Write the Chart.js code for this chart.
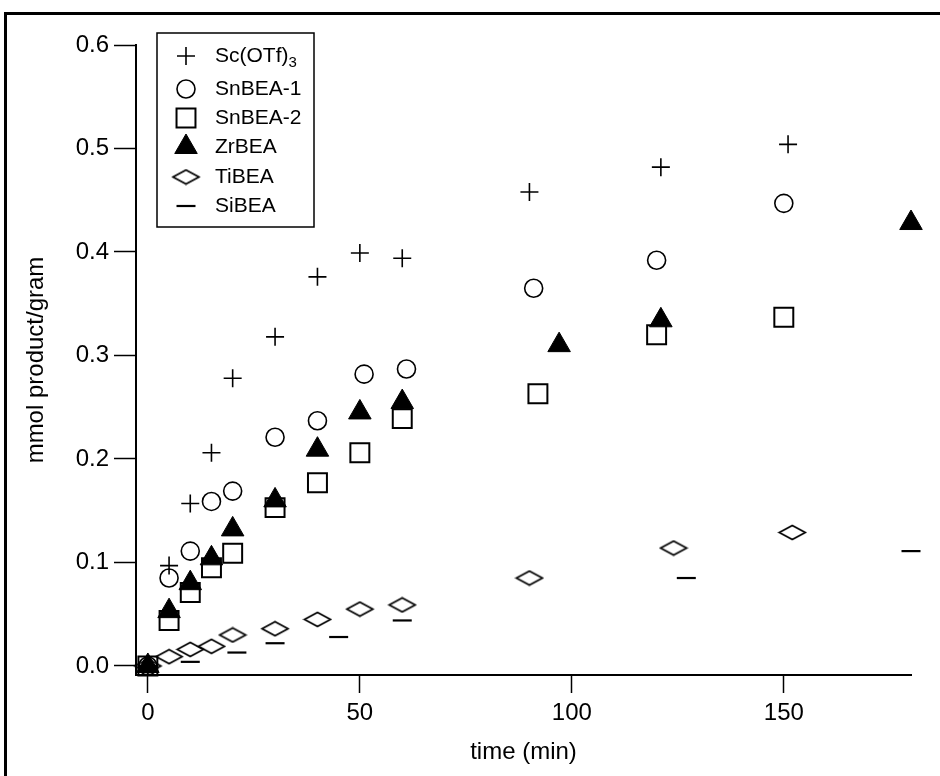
<!DOCTYPE html>
<html>
<head>
<meta charset="utf-8">
<script src="https://cdn.jsdelivr.net/npm/chart.js@4.4.0/dist/chart.umd.min.js"></script>
<style>
  html, body { margin: 0; padding: 0; background: #fff; }
  #wrap { width: 940px; height: 776px; }
</style>
</head>
<body>
<div id="wrap"><canvas id="chart" width="940" height="776"></canvas></div>
<script>
// data (time in min, mmol product / gram)
const seriesNames = ["Sc(OTf)3", "SnBEA-1", "SnBEA-2", "ZrBEA", "TiBEA", "SiBEA"];

const scTimes = [0, 5, 10, 15, 20, 30, 40, 50, 60, 90, 121, 151];
const scValues = [0, 0.097, 0.157, 0.206, 0.278, 0.318, 0.376, 0.399, 0.394, 0.458, 0.482, 0.504];

const sn1Times = [0, 5, 10, 15, 20, 30, 40, 51, 61, 91, 120, 150];
const sn1Values = [0, 0.085, 0.111, 0.159, 0.169, 0.221, 0.237, 0.282, 0.287, 0.365, 0.392, 0.447];

const sn2Times = [0, 5, 10, 15, 20, 30, 40, 50, 60, 92, 120, 150];
const sn2Values = [0, 0.044, 0.071, 0.095, 0.109, 0.153, 0.177, 0.206, 0.239, 0.263, 0.320, 0.337];

const zrTimes = [0, 5, 10, 15, 20, 30, 40, 50, 60, 97, 121, 180];
const zrValues = [0, 0.053, 0.080, 0.104, 0.132, 0.160, 0.209, 0.245, 0.255, 0.310, 0.334, 0.428];

const tiTimes = [0, 5, 10, 15, 20, 30, 40, 50, 60, 90, 124, 152];
const tiValues = [0, 0.009, 0.016, 0.019, 0.030, 0.036, 0.045, 0.055, 0.059, 0.085, 0.114, 0.129];

const siTimes = [0, 10, 21, 30, 45, 60, 127, 180];
const siValues = [0, 0.004, 0.013, 0.022, 0.028, 0.044, 0.085, 0.111];

const xTicks = [0, 50, 100, 150];
const yTicks = [0.0, 0.1, 0.2, 0.3, 0.4, 0.5, 0.6];

const FONT = "'Liberation Sans', Arial, sans-serif";

// flat diamond marker (TiBEA)
const diamond = document.createElement("canvas");
diamond.width = 30;
diamond.height = 17;
(() => {
    const c = diamond.getContext("2d");
    c.strokeStyle = "#000";
    c.lineWidth = 1.7;
    c.beginPath();
    c.moveTo(2, 8.5);
    c.lineTo(15, 1.5);
    c.lineTo(28, 8.5);
    c.lineTo(15, 15.5);
    c.closePath();
    c.stroke();
})();

const toPoints = (xs, ys) => xs.map((x, i) => ({ x, y: ys[i] }));

const datasets = [
    { label: seriesNames[0], data: toPoints(scTimes, scValues), pointStyle: "cross", pointRadius: 9, borderWidth: 1.6, order: 2 },
    { label: seriesNames[1], data: toPoints(sn1Times, sn1Values), pointStyle: "circle", pointRadius: 9, borderWidth: 1.6, order: 3 },
    { label: seriesNames[2], data: toPoints(sn2Times, sn2Values), pointStyle: "rect", pointRadius: 13.4, borderWidth: 2, order: 4 },
    { label: seriesNames[3], data: toPoints(zrTimes, zrValues), pointStyle: "triangle", pointRadius: 13, borderWidth: 1, order: 1, fill: true },
    { label: seriesNames[4], data: toPoints(tiTimes, tiValues), pointStyle: diamond, pointRadius: 9, borderWidth: 1, order: 5 },
    { label: seriesNames[5], data: toPoints(siTimes, siValues), pointStyle: "line", pointRadius: 9.5, borderWidth: 2.2, order: 6 },
].map(d => ({
    ...d,
    showLine: false,
    clip: false,
    borderColor: "#000",
    pointBorderColor: "#000",
    pointBackgroundColor: d.fill ? "#000" : "rgba(0,0,0,0)",
    pointBorderWidth: d.borderWidth,
    pointHoverRadius: d.pointRadius,
}));

// white background + outer frame
const framePlugin = {
    id: "frame",
    beforeDraw(chart) {
        const ctx = chart.ctx;
        ctx.save();
        ctx.fillStyle = "#fff";
        ctx.fillRect(0, 0, chart.width, chart.height);
        ctx.strokeStyle = "#000";
        ctx.lineWidth = 3;
        ctx.strokeRect(5.5, 13.5, 1200, 1200);
        ctx.restore();
    }
};

// boxed legend in the upper left
const legendPlugin = {
    id: "boxLegend",
    afterDraw(chart) {
        const ctx = chart.ctx;
        const rowsY = [56, 89, 118, 147, 177, 206];
        ctx.save();
        ctx.strokeStyle = "#000";
        ctx.lineWidth = 1.5;
        ctx.strokeRect(157, 33, 157, 194);
        ctx.textBaseline = "middle";
        ctx.textAlign = "left";
        chart.data.datasets.forEach((ds, i) => {
            const y = rowsY[i];
            ctx.fillStyle = ds.pointBackgroundColor;
            ctx.strokeStyle = "#000";
            ctx.lineWidth = ds.pointBorderWidth;
            Chart.helpers.drawPoint(ctx, {
                pointStyle: ds.pointStyle,
                radius: ds.pointRadius,
                rotation: 0,
                borderWidth: ds.pointBorderWidth
            }, 186, y);
            ctx.fillStyle = "#000";
            const label = ds.label;
            ctx.font = "21px " + FONT;
            if (label === "Sc(OTf)3") {
                const base = "Sc(OTf)";
                ctx.fillText(base, 215, y);
                const w = ctx.measureText(base).width;
                ctx.font = "15px " + FONT;
                ctx.fillText("3", 215 + w, y + 7);
            } else {
                ctx.fillText(label, 215, y);
            }
        });
        ctx.restore();
    }
};

const ctx = document.getElementById("chart").getContext("2d");
new Chart(ctx, {
    type: "scatter",
    data: { datasets },
    plugins: [framePlugin, legendPlugin],
    options: {
        responsive: false,
        animation: false,
        events: [],
        layout: { padding: { top: 45, right: 29, left: 0, bottom: 0 } },
        plugins: {
            legend: { display: false },
            tooltip: { enabled: false }
        },
        scales: {
            x: {
                type: "linear",
                min: -2.8,
                max: 180,
                afterFit: (scale) => { scale.height = 101; },
                afterBuildTicks: (scale) => { scale.ticks = xTicks.map(v => ({ value: v })); },
                grid: { drawOnChartArea: false, drawTicks: true, tickLength: 18, tickColor: "#000", tickWidth: 1.5 },
                border: { display: true, color: "#000", width: 2 },
                ticks: { color: "#000", padding: 6, font: { family: FONT, size: 24 }, callback: v => String(v) },
                title: { display: true, text: "time (min)", color: "#000", font: { family: FONT, size: 24 }, padding: { top: 0, bottom: 9 } }
            },
            y: {
                type: "linear",
                min: -0.0087,
                max: 0.6,
                afterFit: (scale) => { scale.width = 136; },
                afterBuildTicks: (scale) => { scale.ticks = yTicks.map(v => ({ value: v })); },
                grid: { drawOnChartArea: false, drawTicks: true, tickLength: 22, tickColor: "#000", tickWidth: 1.5 },
                border: { display: true, color: "#000", width: 2 },
                ticks: { color: "#000", padding: 5, font: { family: FONT, size: 24 }, callback: v => v.toFixed(1) },
                title: { display: true, text: "mmol product/gram", color: "#000", font: { family: FONT, size: 24 }, padding: { top: 22, bottom: 0 } }
            }
        }
    }
});
</script>
</body>
</html>
